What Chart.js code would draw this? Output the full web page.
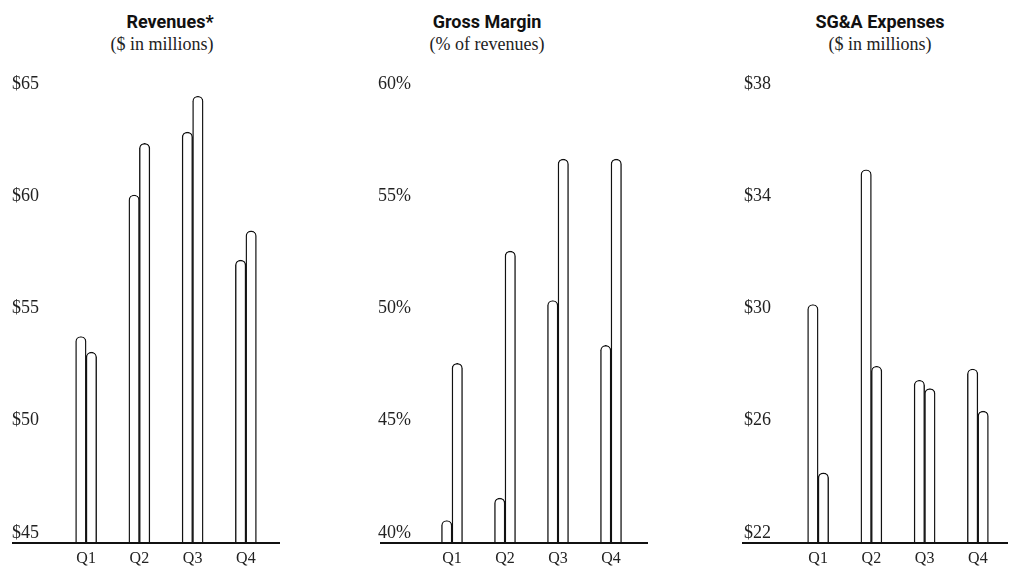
<!DOCTYPE html>
<html>
<head>
<meta charset="utf-8">
<script src="https://cdn.jsdelivr.net/npm/chart.js@4.4.0/dist/chart.umd.min.js"></script>
<style>
  body { margin: 0; background: #fff; width: 1010px; height: 567px; position: relative; overflow: hidden; }
  .panel { position: absolute; top: 0; }
  .ttl, .sub { position: absolute; transform: translateX(-50%); white-space: nowrap; color: #111; }
  .ttl { font-family: Roboto, "Liberation Sans Narrow", sans-serif; font-weight: bold; font-size: 18px; line-height: 20px; top: 12px; }
  .sub { font-family: "Liberation Serif", serif; font-size: 18px; line-height: 18px; top: 35px; color: #222; }
</style>
</head>
<body>

<div class="ttl" style="left:170px">Revenues*</div>
<div class="sub" style="left:162px">($ in millions)</div>
<div class="ttl" style="left:487px">Gross Margin</div>
<div class="sub" style="left:487px">(% of revenues)</div>
<div class="ttl" style="left:880px">SG&amp;A Expenses</div>
<div class="sub" style="left:880px">($ in millions)</div>

<div class="panel" style="left:0px"><canvas id="rev" width="290" height="567"></canvas></div>
<div class="panel" style="left:340px"><canvas id="gm" width="310" height="567"></canvas></div>
<div class="panel" style="left:700px"><canvas id="sga" width="310" height="567"></canvas></div>

<script>
// podatki
const quarters = ['Q1', 'Q2', 'Q3', 'Q4'];

const revenuePrior = [54.2, 60.5, 63.3, 57.6];
const revenueCurrent = [53.5, 62.8, 64.9, 58.9];
const revenueTicks = [45, 50, 55, 60, 65];

const marginPrior = [41.0, 42.0, 50.8, 48.8];
const marginCurrent = [48.0, 53.0, 57.1, 57.1];
const marginTicks = [40, 45, 50, 55, 60];

const sgaPrior = [30.5, 35.3, 27.8, 28.2];
const sgaCurrent = [24.5, 28.3, 27.5, 26.7];
const sgaTicks = [22, 26, 30, 34, 38];

// crta na dnu (os x), nekoliko daljša od samega grafa
const baseline = {
  id: 'baseline',
  afterDatasetsDraw(chart, args, opts) {
    const ctx = chart.ctx;
    const y = chart.chartArea.bottom;
    ctx.save();
    ctx.strokeStyle = '#111';
    ctx.lineWidth = 2;
    ctx.beginPath();
    ctx.moveTo(opts.from, y);
    ctx.lineTo(opts.to, y);
    ctx.stroke();
    ctx.restore();
  }
};

function makePanel(id, prior, current, ticks, fmt, padLeft, padRight, lineFrom, lineTo) {
  const barStyle = {
    backgroundColor: '#fff',
    borderColor: '#111',
    borderWidth: 1.4,
    borderRadius: 6,
    borderSkipped: false,
    barThickness: 10.5,
  };

  return new Chart(document.getElementById(id), {
    type: 'bar',
    data: {
      labels: quarters,
      datasets: [
        { label: 'Prior year', data: prior, ...barStyle },
        { label: 'Current year', data: current, ...barStyle },
      ],
    },
    options: {
      responsive: false,
      animation: false,
      layout: { padding: { left: padLeft, right: padRight, top: 94, bottom: 0 } },
      plugins: {
        legend: { display: false },
        tooltip: { enabled: false },
        baseline: { from: lineFrom, to: lineTo },
      },
      scales: {
        x: {
          grid: { display: false, drawTicks: false },
          border: { display: false },
          ticks: {
            color: '#222',
            padding: 6,
            font: { family: 'Liberation Serif', size: 16 },
          },
          afterFit(scale) { scale.height = 24; },
        },
        y: {
          min: ticks[0],
          max: ticks[ticks.length - 1],
          grid: { display: false, drawTicks: false },
          border: { display: false },
          afterBuildTicks(scale) { scale.ticks = ticks.map(v => ({ value: v })); },
          ticks: {
            color: '#222',
            crossAlign: 'far',
            labelOffset: -10,
            padding: 0,
            font: { family: 'Liberation Serif', size: 18 },
            callback: fmt,
          },
          afterFit(scale) { scale.width = 47.5; },
        },
      },
    },
    plugins: [baseline],
  });
}

makePanel('rev', revenuePrior, revenueCurrent, revenueTicks, v => '$' + v, 12, 17.5, 12, 280);
makePanel('gm', marginPrior, marginCurrent, marginTicks, v => v + '%', 38, 12.5, 40, 308);
makePanel('sga', sgaPrior, sgaCurrent, sgaTicks, v => '$' + v, 44, 5.5, 42, 308);
</script>
</body>
</html>
